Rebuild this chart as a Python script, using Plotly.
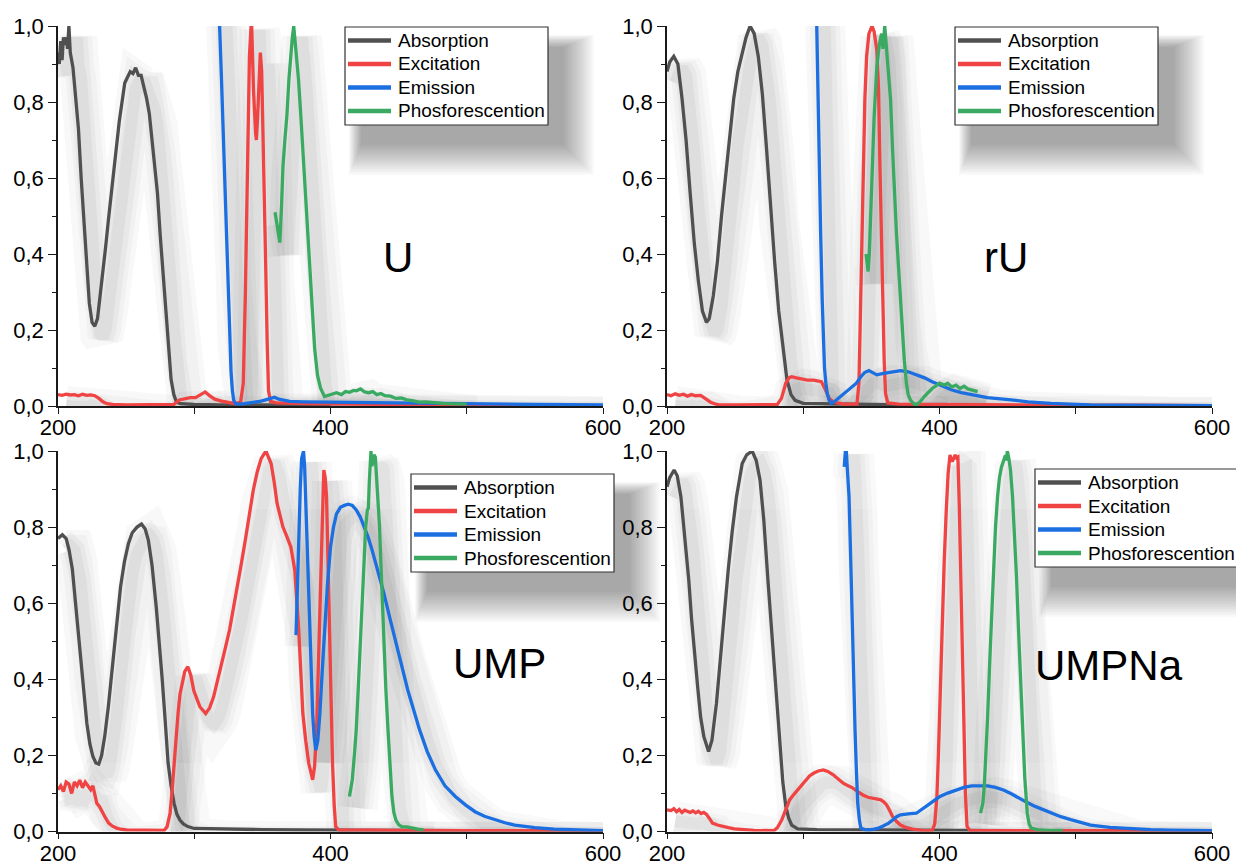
import plotly.graph_objects as go

W, H = 1236, 865

# ---------------- data (wavelength nm, normalized intensity) ----------------
series_names = ["Absorption", "Excitation", "Emission", "Phosforescention"]
series_colors = ["#505050", "#F04343", "#1B6FE0", "#3AAA62"]
panel_labels = ["U", "rU", "UMP", "UMPNa"]
x_tickvals = [200, 300, 400, 500, 600]
x_ticktext = ["200", "", "400", "", "600"]
y_tickvals = [0.0, 0.2, 0.4, 0.6, 0.8, 1.0]
y_ticktext = ["0,0", "0,2", "0,4", "0,6", "0,8", "1,0"]
y_minor = [0.1, 0.3, 0.5, 0.7, 0.9]

# --- U ---
U_abs = [(200,0.93),(201,0.90),(202,0.96),(203,0.91),(204,0.97),(205,0.95),(206,0.97),(207,0.94),(208,1.0),(209,0.93),
         (211,0.89),(213,0.81),(215,0.73),(217,0.60),(219,0.49),(221,0.37),(223,0.27),(225,0.22),(227,0.21),(229,0.23),
         (231,0.29),(233,0.35),(235,0.42),(237,0.49),(239,0.56),(241,0.62),(243,0.69),(245,0.75),(247,0.80),(249,0.85),
         (251,0.865),(253,0.88),(255,0.875),(257,0.89),(259,0.87),(261,0.87),(263,0.84),(265,0.81),(267,0.77),(269,0.70),
         (271,0.63),(273,0.56),(275,0.45),(277,0.35),(279,0.24),(281,0.14),(283,0.07),(285,0.03),(287,0.01),(290,0.006),
         (300,0.004),(320,0.003),(350,0.003),(380,0.002),(400,0.002)]
U_exc = [(200,0.030),(203,0.028),(206,0.031),(209,0.029),(212,0.030),(215,0.027),(218,0.031),(221,0.028),(224,0.029),(227,0.027),
         (230,0.02),(233,0.011),(236,0.006),(240,0.004),(250,0.003),(270,0.003),(285,0.004),(289,0.016),(293,0.02),(297,0.022),
         (301,0.022),(305,0.03),(308,0.037),(311,0.028),(315,0.018),(320,0.013),(325,0.009),(330,0.006),(334,0.01),(336,0.06),
         (337.5,0.29),(339,0.62),(340.5,0.92),(342,1.02),(343.5,0.83),(345,0.72),(345.6,0.70),(346.5,0.76),(347.5,0.87),(348.5,0.93),
         (349.5,0.88),(350.5,0.73),(351.5,0.55),(352.5,0.36),(353.5,0.17),(354.5,0.04),(356,0.012),(360,0.008),(380,0.006),(420,0.004),
         (480,0.003),(540,0.002),(600,0.001)]
U_em = [(317,1.08),(318.6,1.0),(320,0.86),(321.5,0.70),(323,0.545),(324.5,0.37),(325.8,0.19),(327,0.09),(328,0.04),(329,0.015),
        (330.2,0.006),(333,0.005),(337,0.006),(341,0.008),(345,0.01),(349,0.013),(353,0.017),(356,0.021),(359,0.023),(362,0.018),
        (366,0.014),(370,0.012),(380,0.011),(400,0.01),(430,0.01),(460,0.009),(500,0.006),(550,0.004),(600,0.003)]
U_ph = [(359.3,0.51),(360.8,0.47),(362.8,0.43),(364,0.52),(365.1,0.63),(366.5,0.70),(368,0.765),(369.5,0.86),(371,0.94),(372,0.97),
        (373,1.0),(374,0.96),(374.7,0.95),(376.5,0.86),(378.2,0.765),(380.5,0.63),(382.6,0.50),(384,0.42),(385.5,0.33),(387,0.24),
        (388.4,0.15),(390.5,0.08),(392.7,0.047),(395.6,0.025),(398,0.028),(401,0.033),(404.4,0.035),(408,0.03),(411,0.038),(414,0.036),
        (417,0.041),(419,0.04),(422,0.045),(425,0.037),(428,0.035),(431,0.038),(434,0.03),(437,0.033),(440,0.027),(444,0.026),
        (448,0.02),(452,0.021),(456,0.016),(460,0.014),(465,0.01),(470,0.011),(476,0.008),(482,0.007),(488,0.006),(494,0.005),(500,0.005)]

# --- rU ---
rU_abs = [(200,0.88),(202,0.905),(205,0.92),(208,0.90),(211,0.81),(214,0.70),(217,0.56),(220,0.43),(223,0.33),(226,0.25),
          (229,0.22),(231,0.23),(234,0.29),(237,0.38),(240,0.50),(243,0.61),(246,0.72),(249,0.81),(252,0.88),(255,0.93),
          (258,0.97),(261,1.0),(264,0.98),(267,0.92),(270,0.82),(273,0.68),(276,0.52),(279,0.38),(282,0.25),(285,0.15),
          (288,0.07),(291,0.03),(294,0.015),(300,0.007),(320,0.005),(350,0.004),(380,0.003),(400,0.002)]
rU_exc = [(200,0.03),(203,0.027),(206,0.032),(209,0.028),(212,0.031),(215,0.026),(218,0.03),(221,0.027),(224.7,0.028),(228,0.02),
          (232,0.01),(235,0.006),(238,0.003),(250,0.003),(270,0.003),(281,0.004),(284,0.02),(287.2,0.06),(289.5,0.074),(291.5,0.077),
          (295,0.074),(299,0.072),(303,0.068),(307.5,0.068),(310,0.066),(313.3,0.064),(316,0.045),(319.1,0.02),(322,0.011),(324.9,0.008),
          (330,0.005),(339.4,0.005),(340.9,0.06),(342,0.25),(342.9,0.454),(344,0.65),(345.2,0.805),(346.5,0.92),(348.2,0.98),(350.5,1.0),
          (352,0.985),(354,0.937),(355.3,0.83),(356.3,0.63),(357.3,0.45),(358.3,0.28),(359.4,0.12),(360.4,0.033),(362,0.008),(370,0.005),
          (400,0.004),(450,0.003),(500,0.002),(550,0.002),(600,0.001)]
rU_em = [(309.5,1.08),(310.5,0.85),(311.8,0.63),(312.8,0.45),(313.9,0.28),(314.8,0.17),(315.6,0.10),(316.6,0.06),(317.6,0.033),(319,0.015),
         (320.6,0.007),(323,0.012),(325,0.018),(327.8,0.025),(331,0.035),(334,0.044),(336.5,0.05),(339,0.06),(342.3,0.077),(345,0.088),
         (348.2,0.093),(351,0.088),(354,0.082),(358,0.085),(362,0.088),(365.6,0.09),(371.4,0.093),(377,0.09),(383,0.082),(389,0.074),
         (394.6,0.064),(400,0.055),(409.2,0.042),(416,0.035),(423.7,0.029),(435,0.022),(452.7,0.016),(465,0.011),(481.8,0.007),(495,0.005),
         (510.8,0.003),(530,0.002),(560,0.002),(600,0.001)]
rU_ph = [(346.1,0.40),(347.6,0.354),(348.5,0.40),(349.5,0.52),(350.5,0.63),(352,0.76),(354,0.893),(355.8,0.95),(357.5,0.98),(358.5,0.94),
         (359.8,1.0),(360.7,0.96),(361.5,0.946),(362.5,0.88),(364.1,0.805),(365.5,0.68),(367,0.54),(368.5,0.45),(369.9,0.367),(371.3,0.28),
         (372.8,0.19),(374.2,0.12),(375.7,0.06),(377,0.03),(378.6,0.016),(381,0.006),(383,0.003),(386,0.012),(388.8,0.025),(391.5,0.035),
         (394.6,0.046),(397,0.052),(400,0.06),(403.4,0.055),(406,0.06),(409,0.05),(412.1,0.055),(415,0.046),(418,0.052),(420.8,0.045),
         (424,0.042),(428,0.038)]

# --- UMP ---
UMP_abs = [(200,0.77),(203.2,0.78),(206,0.77),(208.1,0.74),(210.5,0.69),(212.5,0.617),(214.7,0.53),(216.9,0.44),(219,0.36),(221.2,0.284),
           (223.4,0.23),(225.6,0.197),(227.8,0.18),(229.9,0.177),(232,0.2),(234.3,0.25),(237,0.33),(240.1,0.44),(243,0.545),(245.9,0.643),
           (248.8,0.71),(251.7,0.757),(254.5,0.785),(258,0.80),(261.3,0.808),(264,0.795),(266.3,0.766),(269,0.70),(272.1,0.59),(274.3,0.50),
           (276.5,0.40),(278.7,0.29),(280.8,0.18),(283,0.12),(285.2,0.074),(287.3,0.045),(289.5,0.03),(292,0.02),(295.3,0.013),(300,0.008),
           (320,0.006),(350,0.005),(380,0.004),(410,0.003),(450,0.003),(500,0.002),(600,0.002)]
UMP_exc = [(200,0.11),(202,0.12),(204,0.105),(206,0.13),(208,0.125),(210,0.10),(212,0.13),(214,0.12),(216,0.135),(218,0.115),
           (220,0.13),(222,0.12),(224,0.11),(225.6,0.12),(227,0.10),(228.5,0.074),(230.5,0.065),(232.8,0.048),(235,0.035),(237.2,0.022),
           (240,0.014),(243,0.009),(246,0.006),(250.3,0.004),(260,0.003),(277.9,0.003),(280,0.012),(282.3,0.048),(283.8,0.11),(285.2,0.18),
           (286.6,0.25),(288.1,0.31),(289.5,0.36),(291,0.39),(293,0.42),(295.3,0.433),(297.5,0.41),(299.7,0.37),(302,0.345),(304.1,0.328),
           (308.4,0.31),(311.3,0.325),(314.2,0.354),(317.1,0.395),(320.1,0.44),(323,0.485),(325.9,0.53),(328.8,0.585),(331.7,0.643),(334.6,0.705),
           (337.5,0.766),(340.4,0.83),(343.3,0.897),(346.2,0.945),(349.1,0.98),(352.6,1.0),(356.4,0.967),(358.6,0.92),(360.8,0.862),(363,0.83),
           (365.1,0.80),(368,0.775),(370.9,0.748),(373.8,0.687),(375.2,0.62),(376.7,0.53),(378.2,0.42),(379.7,0.31),(381.8,0.24),(384,0.18),
           (386.9,0.136),(388.3,0.17),(389.8,0.267),(391.2,0.45),(392.7,0.70),(394,0.87),(395.1,0.95),(396.1,0.93),(397.1,0.88),(398.1,0.72),
           (399.1,0.53),(400.3,0.35),(401.5,0.18),(402.7,0.07),(403.8,0.013),(406,0.004),(420,0.003),(450,0.003),(500,0.002),(550,0.002),(600,0.002)]
UMP_em = [(374.7,0.516),(375.7,0.65),(376.7,0.79),(377.8,0.90),(378.8,0.98),(380.2,1.0),(381,0.96),(381.7,0.88),(382.8,0.75),(384,0.617),
          (385.5,0.46),(386.9,0.31),(388,0.25),(389.2,0.214),(390.7,0.24),(392.2,0.31),(393.9,0.42),(395.6,0.53),(397.8,0.65),(400,0.748),
          (402.2,0.80),(404.4,0.835),(407.3,0.852),(410.2,0.857),(413.1,0.86),(416,0.857),(418.9,0.845),(421.8,0.827),(424.7,0.80),(427.6,0.774),
          (430.5,0.74),(433.4,0.704),(436.3,0.665),(439.2,0.626),(443.6,0.56),(448,0.494),(452.4,0.43),(456.7,0.372),(461,0.32),(465.4,0.267),
          (471,0.21),(477,0.162),(484,0.12),(491.6,0.092),(499,0.07),(506.1,0.052),(513,0.04),(520.6,0.031),(528,0.023),(535.2,0.017),
          (550,0.01),(564.2,0.006),(580,0.004),(600,0.002)]
UMP_ph = [(413.9,0.092),(415,0.11),(416,0.136),(417.5,0.2),(418.9,0.267),(420.3,0.37),(421.8,0.486),(423.2,0.62),(424.7,0.748),(425.8,0.80),
          (427,0.844),(427.8,0.85),(428.5,0.92),(429.2,0.97),(429.7,1.0),(430.4,0.96),(431.1,0.975),(432,0.99),(432.9,0.984),(433.5,0.95),
          (434.3,0.92),(434.9,0.897),(436,0.80),(437,0.704),(438,0.6),(439.2,0.486),(440.7,0.37),(442.2,0.267),(443.6,0.17),(445.1,0.092),
          (446.5,0.05),(448,0.03),(450,0.018),(452.3,0.013),(456,0.012),(459.6,0.009),(464,0.006),(468.3,0.004)]

# --- UMPNa ---
UMPNa_abs = [(200,0.906),(202,0.93),(205.2,0.95),(207.5,0.935),(210.2,0.88),(213,0.78),(216,0.66),(218,0.56),(220.3,0.46),(222.5,0.38),
             (224.7,0.30),(227,0.25),(230.5,0.21),(233,0.24),(236.3,0.337),(239,0.45),(242.1,0.573),(245,0.69),(247.9,0.79),(251,0.88),
             (255.2,0.967),(258.5,0.99),(262.5,1.0),(265.5,0.975),(268.3,0.923),(271,0.82),(274.1,0.66),(276.3,0.55),(278.4,0.44),(280.6,0.33),
             (282.8,0.223),(285,0.13),(287.2,0.066),(289.3,0.035),(291.5,0.017),(295.9,0.007),(310,0.005),(340,0.004),(380,0.003),(420,0.003),
             (480,0.002),(600,0.002)]
UMPNa_exc = [(200,0.057),(203,0.055),(205,0.06),(207,0.052),(209,0.058),(211,0.05),(213,0.056),(215,0.052),(217,0.05),(219,0.054),
             (221,0.049),(223,0.053),(225,0.047),(227,0.05),(229,0.045),(231,0.035),(233.4,0.022),(237,0.017),(240.7,0.013),(245,0.01),
             (249.4,0.007),(256,0.005),(263.9,0.003),(278.4,0.002),(281,0.01),(284.2,0.03),(287,0.055),(290,0.083),(293,0.097),(295.9,0.109),
             (298.8,0.123),(301.7,0.136),(304.6,0.146),(307.5,0.153),(311,0.159),(314.7,0.162),(318,0.158),(322,0.149),(325.7,0.138),(329.3,0.127),
             (333,0.12),(336.5,0.114),(340,0.105),(343.8,0.096),(347.5,0.09),(351.1,0.087),(354,0.085),(356.9,0.083),(359,0.078),(361.2,0.07),
             (363.4,0.055),(365.6,0.039),(368.5,0.026),(371.4,0.017),(375.7,0.01),(380.1,0.006),(387,0.003),(394.6,0.002),(396.5,0.02),(398.1,0.092),
             (399.2,0.2),(400.4,0.354),(401.9,0.53),(403.4,0.704),(404.9,0.84),(406.3,0.94),(407.7,0.99),(408.7,0.975),(409.7,0.975),(410.6,0.985),
             (411.5,0.99),(412.5,0.982),(413.5,0.984),(414.5,0.86),(415.5,0.704),(416.7,0.48),(417.9,0.267),(419,0.1),(420.2,0.013),(422.2,0.003),
             (450,0.002),(500,0.002),(600,0.002)]
UMPNa_em = [(330.1,0.958),(330.6,0.99),(331.3,1.02),(332.4,0.95),(333.6,0.88),(334.8,0.72),(336,0.53),(337,0.39),(338,0.267),(339,0.16),
            (340,0.074),(341.2,0.03),(342.3,0.009),(345,0.005),(348.2,0.004),(352,0.006),(355.4,0.009),(359,0.015),(362.7,0.022),(365.6,0.03),
            (368.5,0.039),(371.4,0.044),(374.3,0.046),(378.6,0.047),(383,0.048),(387.4,0.058),(391.7,0.07),(396,0.081),(400.4,0.092),(406,0.101),
            (412.1,0.109),(418,0.116),(423.7,0.12),(429.5,0.121),(435.3,0.12),(441,0.116),(446.9,0.109),(452.7,0.099),(458.5,0.087),(464.4,0.076),
            (470.2,0.066),(476,0.057),(481.8,0.048),(489,0.039),(496.3,0.031),(503.5,0.024),(510.8,0.017),(525,0.011),(539.9,0.007),(555,0.005),
            (568.9,0.0035),(585,0.0025),(600,0.002)]
UMPNa_ph = [(430.1,0.048),(431,0.06),(431.8,0.074),(432.9,0.12),(433.9,0.18),(435.3,0.30),(436.8,0.44),(438.2,0.57),(439.7,0.704),(441.1,0.8),
            (442.6,0.88),(444,0.93),(445.5,0.958),(447,0.975),(448.4,0.989),(449.1,0.975),(449.8,1.0),(450.9,0.98),(452.1,0.95),(453.6,0.88),
            (455.1,0.79),(456.5,0.67),(458,0.53),(459.4,0.4),(460.9,0.267),(462.6,0.14),(464.4,0.048),(465.8,0.02),(467.3,0.009),(470,0.006),
            (473.1,0.004),(480,0.003),(490.5,0.003)]

panels_data = [
    [U_abs, U_exc, U_em, U_ph],
    [rU_abs, rU_exc, rU_em, rU_ph],
    [UMP_abs, UMP_exc, UMP_em, UMP_ph],
    [UMPNa_abs, UMPNa_exc, UMPNa_em, UMPNa_ph],
]

# ---------------- layout geometry (pixels) ----------------
areas = [(58, 603, 26, 406), (667, 1212, 26, 406), (58, 603, 451, 831.5), (667, 1212, 451, 831.5)]
legend_boxes = [(345, 27), (955, 27), (411, 474), (1035, 469)]
label_pos = [(398, 257), (1006, 257), (499, 663), (1109, 665)]
LEG_W, LEG_H = 203, 98
LEG_ROWS = [13.5, 37, 60.5, 84]

FONT = "Liberation Sans, Arial, Helvetica, sans-serif"

fig = go.Figure()

def px2x(p):
    return p / W

def px2y(p):
    return 1 - p / H

shapes = []
annotations = []

# legends drawn by hand (box, soft drop shadow, line samples, labels)
for (lx, ly) in legend_boxes:
    ox, oy = lx + 16, ly + 20
    for e in range(30, -1, -2):
        shapes.append(dict(type="rect", xref="paper", yref="paper", layer="below",
                           x0=px2x(ox - e * 0.4), x1=px2x(ox + LEG_W + e),
                           y0=px2y(oy + LEG_H + e), y1=px2y(oy - e * 0.4),
                           fillcolor="black", opacity=0.024, line=dict(width=0)))
    shapes.append(dict(type="rect", xref="paper", yref="paper", layer="above",
                       x0=px2x(lx), x1=px2x(lx + LEG_W), y0=px2y(ly + LEG_H), y1=px2y(ly),
                       fillcolor="white", line=dict(color="#333333", width=1.2)))
    for s, off in enumerate(LEG_ROWS):
        shapes.append(dict(type="line", xref="paper", yref="paper", layer="above",
                           x0=px2x(lx + 3), x1=px2x(lx + 46), y0=px2y(ly + off), y1=px2y(ly + off),
                           line=dict(color=series_colors[s], width=4.5)))
        annotations.append(dict(x=px2x(lx + 51), y=px2y(ly + off), xref="paper", yref="paper",
                                text=series_names[s], showarrow=False, xanchor="left", yanchor="middle",
                                font=dict(size=19, family=FONT, color="black")))

for i, data in enumerate(panels_data):
    xa = "x" if i == 0 else f"x{i+1}"
    ya = "y" if i == 0 else f"y{i+1}"
    # soft shadows under the curves
    for s, pts in enumerate(data):
        xs = [p[0] + 6 for p in pts]
        ys = [p[1] - 0.03 for p in pts]
        for w, op in [(40, 0.025), (30, 0.025), (21, 0.03), (12, 0.035)]:
            fig.add_trace(go.Scatter(x=xs, y=ys, mode="lines", xaxis=xa, yaxis=ya,
                                     line=dict(color="black", width=w), opacity=op,
                                     showlegend=False, hoverinfo="skip"))
    for s, pts in enumerate(data):
        fig.add_trace(go.Scatter(x=[p[0] for p in pts], y=[p[1] for p in pts], mode="lines",
                                 name=series_names[s], xaxis=xa, yaxis=ya, showlegend=False,
                                 line=dict(color=series_colors[s], width=3.3)))

layout = dict(
    width=W, height=H,
    margin=dict(l=0, r=0, t=0, b=0, autoexpand=False),
    paper_bgcolor="white", plot_bgcolor="rgba(0,0,0,0)",
    font=dict(family=FONT, color="black"),
    showlegend=False,
)

for i, (l, r, t, b) in enumerate(areas):
    xk = "xaxis" if i == 0 else f"xaxis{i+1}"
    yk = "yaxis" if i == 0 else f"yaxis{i+1}"
    yref = "y" if i == 0 else f"y{i+1}"
    xref = "x" if i == 0 else f"x{i+1}"
    layout[xk] = dict(domain=[px2x(l), px2x(r)], range=[200, 600], anchor=yref,
                      showline=True, linecolor="#1a1a1a", linewidth=1.5, showgrid=False, zeroline=False,
                      ticks="outside", ticklen=6, tickwidth=1.3, tickcolor="#1a1a1a",
                      tickvals=x_tickvals, ticktext=x_ticktext,
                      tickfont=dict(size=22, family=FONT, color="black"), ticklabelstandoff=-5)
    layout[yk] = dict(domain=[px2y(b), px2y(t)], range=[0, 1], anchor=xref,
                      showline=True, linecolor="#1a1a1a", linewidth=1.5, showgrid=False, zeroline=False,
                      ticks="outside", ticklen=8, tickwidth=1.3, tickcolor="#1a1a1a",
                      tickvals=y_tickvals, ticktext=y_ticktext,
                      minor=dict(tickvals=y_minor, ticks="outside", ticklen=4, tickwidth=1.2, tickcolor="#1a1a1a"),
                      tickfont=dict(size=22, family=FONT, color="black"), ticklabelstandoff=0)
    cx, cy = label_pos[i]
    annotations.append(dict(x=px2x(cx), y=px2y(cy), xref="paper", yref="paper",
                            text=panel_labels[i], showarrow=False,
                            font=dict(size=42, family=FONT, color="black"),
                            xanchor="center", yanchor="middle"))

layout["shapes"] = shapes
layout["annotations"] = annotations
fig.update_layout(**layout)
fig.write_html("out.html", config={"displayModeBar": False},
               post_script="document.body.style.margin='0';document.body.style.overflow='hidden';")
